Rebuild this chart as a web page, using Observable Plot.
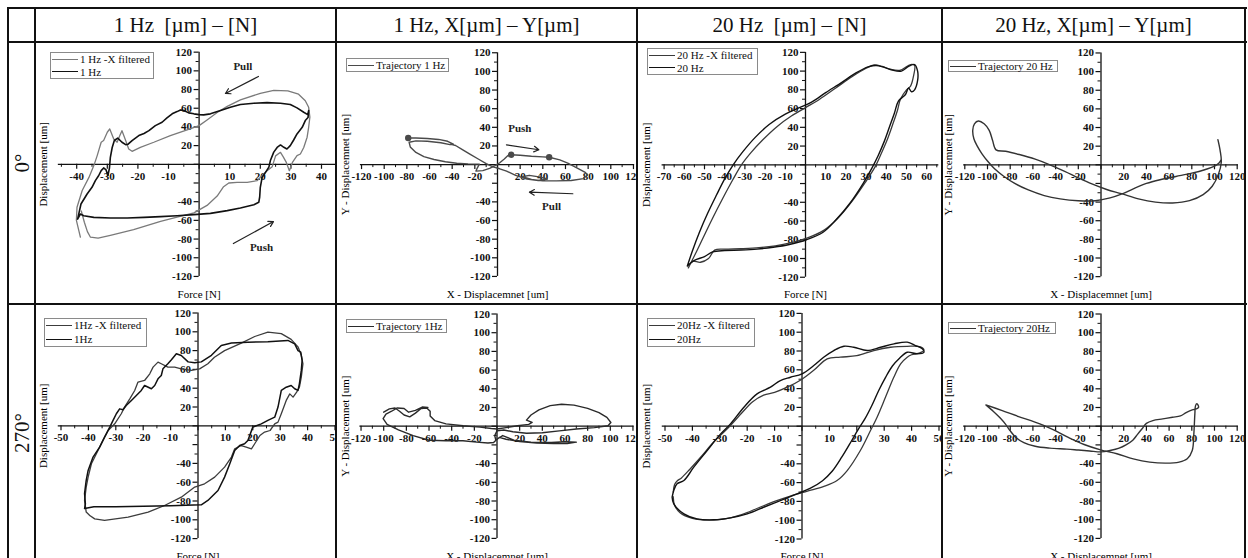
<!DOCTYPE html>
<html>
<head>
<meta charset="utf-8">
<script src="https://cdn.jsdelivr.net/npm/d3@7"></script>
<script src="https://cdn.jsdelivr.net/npm/@observablehq/plot@0.6"></script>
<style>
  html, body { margin: 0; padding: 0; background: #fff; }
  body { width: 1248px; height: 558px; overflow: hidden; font-family: "Liberation Serif", "Times New Roman", serif; color: #111; }
  #root { position: relative; width: 1248px; height: 558px; overflow: hidden; }
  .cell { position: absolute; overflow: hidden; }
  .line { position: absolute; background: #111; }
  .hdr { position: absolute; font-size: 21px; white-space: pre; line-height: 24px; height: 24px; text-align: center; }
  .rowlab { position: absolute; font-size: 21px; white-space: pre; width: 80px; height: 24px; line-height: 24px; text-align: center; transform: rotate(-90deg); }
  .legend { position: absolute; box-sizing: border-box; border: 1px solid #8a8a8a; background: #fff; font-size: 11px; padding-left: 1px; }
  .lrow { display: flex; align-items: center; white-space: pre; height: 12.5px; line-height: 12.5px; }
  .lsw { display: inline-block; width: 26px; height: 0; margin-right: 2px; }
  svg text { font-family: "Liberation Serif", "Times New Roman", serif; }
</style>
</head>
<body>
<div id="root"></div>
<script>
// ---------------- text ----------------
const columnHeaders = ["1 Hz  [\u00b5m] \u2013 [N]", "1 Hz, X[\u00b5m] \u2013 Y[\u00b5m]", "20 Hz  [\u00b5m] \u2013 [N]", "20 Hz, X[\u00b5m] \u2013 Y[\u00b5m]"];
const rowLabels = ["0\u00b0", "270\u00b0"];

// ---------------- tick labels ----------------
const yTickLabels = [-120, -100, -80, -60, -40, 20, 40, 60, 80, 100, 120];
const xLabels1Hz0 = [-40, -30, -20, -10, 10, 20, 30, 40];
const xLabelsDisp = [-120, -100, -80, -60, -40, -20, 20, 40, 60, 80, 100, 120];
const xLabels20Hz0 = [-70, -60, -50, -40, -30, -20, -10, 10, 20, 30, 40, 50, 60];
const xLabels270 = [-50, -40, -30, -20, -10, 10, 20, 30, 40, 50];

// ---------------- data: 0 deg, 1 Hz force / displacement ----------------
const force1Hz0 = [
  [-39.7,-58.6],[-38.6,-42.5],[-36.6,-31.8],[-35,-24.6],[-33.9,-17.5],[-32.8,-12],[-32,-6.8],[-31.2,-3.9],[-30.4,-6],[-29.8,-12],[-29.3,-4],[-29,7.5],[-28.4,18],[-27.7,25.5],[-26.6,28],[-25.2,23.6],[-24,21],[-23.2,21.5],[-21.9,25.4],[-19.7,30.7],[-18,33],[-16.4,36],[-14.3,41.4],[-12.1,45],[-10.5,49.6],[-8.8,54],[-7.2,56.4],[-6.1,58.2],[-5,57.5],[-3.4,55],[-1.7,54],[0,53.2],[1.5,52.9],[3.7,54],[7,57.5],[10.2,61],[13.5,64],[17.9,65.4],[22.2,66],[26.6,65.4],[29.8,64],[32,60.4],[34.2,55.7],[35.5,53.2],[35.8,57.5],[35.6,50],[34.7,46.8],[33.7,39.6],[32,32.5],[30.9,26],[29.8,20],[28.7,16.4],[27.7,18.2],[26.6,20.7],[25.5,18],[24.4,13],[23.3,4],[22.8,-3],[21.7,-8.6],[20.6,-14],[20,-24.6],[19.8,-35],[19.5,-40.7],[17.9,-43.2],[13.5,-46.8],[9.2,-49.6],[3.7,-52.5],[-1.7,-53.9],[-7.2,-55],[-12.6,-56],[-18,-56.8],[-23.5,-57.5],[-29,-57.5],[-34.4,-56.8],[-37.7,-55],[-38.8,-53.2],[-39.7,-58.6]
];
const force1Hz0Filtered = [
  [-38.5,-50],[-37.5,-62],[-36.5,-72],[-35.5,-78],[-33,-79],[-29,-76],[-21.4,-70],[-12.6,-61],[-7.2,-56.5],[-1.7,-52],[2.6,-44],[5.9,-34],[8,-24],[9.7,-20],[12.4,-19.3],[15.7,-19.3],[19,-17.5],[20.6,-12],[22.2,-7],[23.9,-2.5],[25,9],[26.6,12.8],[27.5,8],[28.5,2],[29.5,-6.8],[30.5,2],[32,9.3],[33.1,11],[34.2,18],[35.3,29],[35.8,39.6],[36.2,50.4],[35.8,61],[34.7,68],[32.5,75],[29,78.5],[24.4,79],[20,76],[13.5,69],[9.2,62],[5.9,55.5],[2.6,47.5],[0,41.4],[-3.9,36.8],[-9.4,30.7],[-14.8,23.6],[-19.2,18.2],[-21.9,13.9],[-23,16.4],[-24,25.4],[-25.2,36],[-25.9,30.7],[-26.8,23.6],[-27.9,27],[-29.2,37.8],[-30,34.3],[-31.2,25.4],[-32,23.6],[-33.3,9.3],[-34.4,-1.4],[-36,-14],[-38.2,-28],[-39.9,-46],[-40.1,-60],[-39.3,-71],[-38.8,-78]
];
const arrows1Hz0 = [[19.4, 94, 8.6, 75.8], [11.2, -84.8, 24.3, -61.3]];
const notes1Hz0 = [["Pull", 14.3, 105], ["Push", 20.4, -89.4]];

// ---------------- data: 0 deg, 1 Hz trajectory ----------------
const traj1Hz0 = [
  [-78.8,28.6],[-72,28.5],[-62,28],[-52,27],[-44,25],[-39,22],[-42,21.5],[-50,23.5],[-62,25],[-72,25.5],[-78,24],[-77,19],[-72,13],[-65,8.5],[-56,5.5],[-46,3],[-36,1.5],[-26,0.8],[-16,0.5],[-18,-4],[-19,-7],[-13,-6.5],[-7,-4],[-2,-1],[2,2],[6,6],[9,9.5],[12,10.5],[20,10],[30,9],[40,8.3],[45.6,7.9],[55,5],[62,1.5],[70,-3.5],[77,-8],[79.5,-11],[76,-15],[65,-17],[52,-17.5],[40,-17.5],[30,-16],[22,-13],[28,-11.5],[38,-13.5],[44,-15.5],[36,-17],[26,-15.5],[16,-11.5],[8,-7],[2,-4.5],[-4,-2.5],[-10,1],[-17,6],[-24,11],[-31,16],[-37,20.5],[-40,21.5]
];
const traj1Hz0Markers = [[-78.8,28.6],[45.6,7.9],[12,10.5]];
const arrowsTraj1Hz0 = [[7.9, 21.2, 36.5, 15.9], [66.5, -31.3, 28.2, -29.6]];
const notesTraj1Hz0 = [["Push", 19.7, 38.4], ["Pull", 47.7, -45]];

// ---------------- data: 0 deg, 20 Hz force / displacement ----------------
const force20Hz0 = [
  [-58.5,-108],[-56,-92],[-52.5,-72],[-48.5,-52],[-44,-32],[-40,-15],[-35.8,0],[-31,14],[-25,29],[-18,43],[-10,54],[-3,61],[3,67],[10,77],[18,88],[25,98],[31,104.5],[35,106],[39,104],[43,101],[47.5,100],[51,105],[54,107],[55.5,100],[55.5,90],[54,80],[52.5,78],[51,82],[49.5,75],[46,68],[44,55],[41.5,40],[39,25],[36,10],[33,-3],[28.5,-20],[22,-41],[15,-59],[8.7,-72],[0.5,-80],[-8,-85],[-16,-88],[-24,-90],[-32,-91],[-40,-91.5],[-46,-93],[-50,-98],[-55,-102],[-58.5,-108]
];
const force20Hz0Filtered = [
  [-58,-110],[-54.5,-95],[-50.5,-77],[-46,-57],[-41,-36],[-36,-16],[-31.7,0],[-27,13],[-21,27],[-14,41],[-7,52],[0,61],[7,70],[15,82],[23,94],[30,103],[34,106.5],[38,105],[42,102],[47,101],[52,107],[54,106],[53.5,95],[52,84],[50,80],[47,70],[45.5,58],[43,42],[40.5,27],[37.5,12],[34.5,-2],[29.5,-19],[23,-39],[16,-57],[9,-70],[1,-78],[-7,-83],[-15,-86.5],[-23,-88.5],[-32,-89.5],[-40,-90],[-45,-91],[-48,-100],[-52,-104],[-56,-103],[-58,-110]
];

// ---------------- data: 0 deg, 20 Hz trajectory ----------------
const traj20Hz0 = [
  [103,27],[105,15],[106,3],[103.5,-10],[98,-23],[90,-32],[78,-38.5],[63,-41],[48,-40],[33,-36.5],[18,-31],[5,-26.5],[-8,-20.5],[-20,-14],[-32,-7],[-45,0],[-58,6],[-72,11],[-84,14.5],[-92.5,16],[-95.5,26],[-98.5,37],[-103,44],[-108,47],[-111.5,44],[-113,37],[-112,28],[-109,20],[-105,12],[-100,4],[-94,-4],[-86,-12],[-76,-20],[-64,-27],[-50,-33],[-36,-36.5],[-20,-38.5],[-5,-38.5],[8,-35.5],[18,-31.5],[28,-26],[40,-20],[52,-16],[66,-12.5],[80,-9],[92,-5],[100,-1.5],[104,2],[106,6]
];

// ---------------- data: 270 deg, 1 Hz force / displacement ----------------
const force1Hz270 = [
  [-41.1,-83],[-41.4,-72],[-40.8,-58],[-40.1,-47.5],[-38.3,-33.3],[-35.9,-22.7],[-34.1,-12],[-32.2,-1.4],[-31,5.7],[-29.8,12.8],[-28.6,18],[-27.4,17],[-26.2,21.6],[-24.3,27],[-22.5,32.3],[-20.7,37.6],[-19.5,42.9],[-17,39.4],[-15.8,42.9],[-14.6,50],[-13.4,53.5],[-12.8,60.6],[-11,66],[-9.7,70.2],[-7.9,76.6],[-6.1,74.8],[-3.6,68],[-1.2,67],[1.2,68],[4.9,75],[8.5,85.5],[12.2,88],[18.2,89],[25.5,89.5],[32.8,90.8],[35.3,87.2],[36.5,80],[37.5,78.4],[38,69.5],[37.7,58.9],[37,44.7],[36.5,37.6],[35.3,39.4],[34,42.9],[32.2,41.1],[30.4,37.6],[29.2,19.9],[28,9.2],[25.5,5.7],[23.1,2],[20,-1.4],[18.2,-15.6],[17,-19.1],[15.2,-20.9],[13.4,-26.2],[11.6,-40.4],[9.7,-54.6],[7.3,-68.8],[3.6,-79.4],[1.2,-84],[-10,-85],[-20,-85.5],[-30,-86],[-38,-86],[-41.4,-88],[-41.1,-83]
];
const force1Hz270Filtered = [
  [-39.5,-95.4],[-40.8,-91.8],[-41.4,-79.4],[-40.8,-65.2],[-40.1,-54.6],[-38.9,-40.4],[-36.5,-26.2],[-34.7,-15.6],[-32.8,-5],[-30.4,2.1],[-28,12.8],[-26.8,19.9],[-24.9,28.7],[-23.1,37.6],[-21.9,46.5],[-19.5,48.2],[-17.6,55.3],[-16.4,62.4],[-14.6,67.7],[-13.4,66],[-11,62.4],[-8.5,62.4],[-6.1,60.6],[-2.4,58.9],[0.6,60.6],[3.6,66],[6,73],[9.7,80],[15.8,88],[20.7,95],[25.5,99.6],[30.4,98],[34,92],[36.5,84],[37.7,75],[38.3,66],[37.7,51.8],[37,41],[36,35.8],[34.7,30.5],[33.5,34],[32.2,27],[30.4,12.8],[29.2,3.9],[28,2],[26.3,-5],[24.3,-6.7],[22.6,-10.3],[20.7,-19.1],[19.5,-24.5],[17.6,-22.7],[15.8,-21],[13.4,-24.5],[12.2,-33.3],[9.7,-44],[6.1,-54.6],[2.4,-61.7],[-1.2,-65.2],[-6.1,-75.9],[-12.2,-84.8],[-18.2,-91.8],[-25.5,-97.2],[-34.1,-100.7],[-37.7,-99],[-39.5,-95.4]
];

// ---------------- data: 270 deg, 1 Hz trajectory ----------------
const traj1Hz270 = [
  [-100,15],[-95,18.5],[-90,19.5],[-86,16],[-82,12],[-77,10],[-72,14],[-67,19],[-62,19.5],[-59,16],[-59,11],[-55,6],[-45,2.5],[-30,0.5],[-15,-1],[-5,-2.5],[0,-3],[8,-1.5],[18,0.5],[28,2],[31,4],[26,6.5],[30,12],[37,17.5],[47,22],[57,23.5],[68,22.5],[80,19],[90,14.5],[97,9.5],[100.5,4],[98,0.5],[86,-1.5],[70,-3],[55,-5],[40,-7],[26,-7.5],[14,-6],[6,-4],[0,-5],[-2,-10],[-1,-15],[2,-12],[8,-14],[20,-16.5],[35,-18],[50,-18.5],[62,-18.5],[70,-17],[60,-16.5],[48,-17.5],[30,-17],[15,-15],[5,-10],[0,-14],[-3,-17.5],[-8,-18],[-18,-17],[-30,-15.5],[-45,-15.5],[-60,-15],[-74,-10],[-87,-4],[-97,2],[-100.5,8],[-98,13],[-93,16],[-88,19.5],[-82,19],[-78,15],[-72,17],[-66,20.5],[-61,20]
];

// ---------------- data: 270 deg, 20 Hz force / displacement ----------------
const force20Hz270 = [
  [-47.4,-75.5],[-46.8,-68.4],[-45.6,-61.3],[-43.1,-57.8],[-39.5,-43.6],[-34.6,-25.9],[-29.7,-8.2],[-26.1,2.5],[-21.2,20.2],[-16.4,34.4],[-11.5,41.5],[-7.9,48.6],[-4.2,52.1],[0,55.7],[4.3,64.5],[7.9,73.4],[11.6,80.5],[15.3,85.1],[18.9,84],[23.8,80.5],[28.7,84],[33.6,87.6],[38.4,89.4],[41.4,85.8],[43.9,82.3],[44.5,78.7],[42,77],[38.4,78.7],[35.5,72],[33,64],[30.5,52],[28,38],[25.5,22],[23,8],[21,-1],[18,-16],[14.5,-33],[11,-48],[7.5,-58],[3.1,-66],[-1.8,-72],[-7.9,-79.1],[-14,-86.2],[-20,-93.3],[-26.1,-97.5],[-32.2,-99.6],[-38.3,-98.6],[-43.1,-93.3],[-46.8,-82.6],[-47.4,-75.5]
];
const force20Hz270Filtered = [
  [-47,-70],[-46.5,-62],[-45.5,-58],[-44,-55],[-41,-46],[-37,-33],[-32,-16],[-27,-2],[-22,14],[-18,26],[-14,33],[-10,36],[-5.4,41.5],[0,50],[4.5,60],[9.2,71.6],[14,73.4],[20,75],[26.2,80.5],[32.3,84],[38.4,85],[43.2,84.5],[44.5,81],[43,78],[40,76],[38.4,73.4],[36,66.3],[33.5,52],[30.5,31],[27.4,9.6],[25,-4.6],[21.3,-25.9],[16.5,-47.2],[12.8,-57.8],[8,-64],[2,-69],[-4,-74],[-10,-80],[-16,-87],[-22,-94],[-28,-98.5],[-34,-100],[-40,-98],[-44.5,-92],[-46.5,-84],[-47,-75]
];

// ---------------- data: 270 deg, 20 Hz trajectory ----------------
const traj20Hz270 = [
  [-101.4,22.8],[-87,16.7],[-72.6,10.3],[-58.2,4.3],[-43.7,-2.8],[-29.3,-11.7],[-14.9,-19.6],[-0.4,-25.3],[14,-29.5],[28.4,-34.9],[42.9,-38.4],[57.3,-39.5],[68.8,-38.4],[76,-34.9],[80.4,-26],[81.8,-8.2],[82.7,13.2],[83.3,22],[84.5,24],[86,20.3],[84,18.5],[80.4,17.5],[75,14.5],[70,11],[63,9.6],[54.4,7.8],[45.7,6],[40,3],[36,-3],[32,-9],[28,-15],[22,-20],[16,-23.5],[8,-26],[0,-27.5],[-10,-26.5],[-20,-25.5],[-30,-24.5],[-45,-23.5],[-58,-21.5],[-68,-17.5],[-75,-12],[-80,-5],[-84,2],[-89,9],[-95,16],[-101.4,22.8]
];

// ---------------- layout ----------------
const root = document.getElementById("root");
const colX = [8, 35, 336, 637, 942, 1245];
const rowY = [8, 42, 304, 566];

const panels = [
  {col: 1, row: 0, ox: 163.6, oy: 121.8, kx: 3.06, ky: 0.9345, xAxis: [-46, 48], xMajor: 10, xMinor: 5, xLabels: xLabels1Hz0,
   xTitle: "Force [N]", yTitle: "Displacement [um]", yTitleDx: 8, curve: "linear",
   series: [{data: force1Hz0Filtered, stroke: "#7a7a7a", w: 1.3}, {data: force1Hz0, stroke: "#111", w: 1.6}],
   arrows: arrows1Hz0, notes: notes1Hz0,
   legend: {box: [50, 52, 104, 27], items: [["1 Hz -X filtered", "#7a7a7a"], ["1 Hz", "#111"]]}},
  {col: 2, row: 0, ox: 161, oy: 122.1, kx: 1.133, ky: 0.932, xAxis: [-121, 121], xMajor: 20, xMinor: 10, xLabels: xLabelsDisp,
   xTitle: "X - Displacemnet [um]", yTitle: "Y - Displacemnet [um]", yTitleDx: 9, curve: "linear",
   series: [{data: traj1Hz0, stroke: "#4a4a4a", w: 1.4}], markers: traj1Hz0Markers,
   arrows: arrowsTraj1Hz0, notes: notesTraj1Hz0,
   legend: {box: [346, 58, 103, 14], items: [["Trajectory 1 Hz", "#4a4a4a"]]}},
  {col: 3, row: 0, ox: 168, oy: 122.3, kx: 2.02, ky: 0.937, xAxis: [-71, 66], xMajor: 10, xMinor: 5, xLabels: xLabels20Hz0,
   xTitle: "Force [N]", yTitle: "Displacement [um]", yTitleDx: 9, curve: "catmull-rom",
   series: [{data: force20Hz0Filtered, stroke: "#3a3a3a", w: 1.3}, {data: force20Hz0, stroke: "#111", w: 1.4}],
   legend: {box: [647, 48, 111, 27], items: [["20 Hz -X filtered", "#3a3a3a"], ["20 Hz", "#111"]]}},
  {col: 4, row: 0, ox: 158.5, oy: 122.3, kx: 1.135, ky: 0.932, xAxis: [-121, 121], xMajor: 20, xMinor: 10, xLabels: xLabelsDisp,
   xTitle: "X - Displacemnet [um]", yTitle: "Y - Displacemnet [um]", yTitleDx: 5.5, curve: "catmull-rom",
   series: [{data: traj20Hz0, stroke: "#333", w: 1.4}],
   legend: {box: [948, 60, 110, 12], items: [["Trajectory 20 Hz", "#333"]]}},
  {col: 1, row: 1, ox: 162.5, oy: 121.3, kx: 2.74, ky: 0.94, xAxis: [-51, 52], xMajor: 10, xMinor: 5, xLabels: xLabels270,
   xTitle: "Force [N]", yTitle: "Displacement [um]", yTitleDx: 8, curve: "linear",
   series: [{data: force1Hz270Filtered, stroke: "#3c3c3c", w: 1.3}, {data: force1Hz270, stroke: "#111", w: 1.5}],
   legend: {box: [44, 318, 103, 29], items: [["1Hz -X filtered", "#3c3c3c"], ["1Hz", "#111"]]}},
  {col: 2, row: 1, ox: 160.5, oy: 121.7, kx: 1.133, ky: 0.935, xAxis: [-121, 121], xMajor: 20, xMinor: 10, xLabels: xLabelsDisp,
   xTitle: "X - Displacemnet [um]", yTitle: "Y - Displacemnet [um]", yTitleDx: 9, curve: "linear",
   series: [{data: traj1Hz270, stroke: "#2a2a2a", w: 1.4}],
   legend: {box: [346, 319, 101, 14], items: [["Trajectory 1Hz", "#2a2a2a"]]}},
  {col: 3, row: 1, ox: 164.5, oy: 121.7, kx: 2.74, ky: 0.94, xAxis: [-51, 52], xMajor: 10, xMinor: 5, xLabels: xLabels270,
   xTitle: "Force [N]", yTitle: "Displacement [um]", yTitleDx: 9, curve: "catmull-rom",
   series: [{data: force20Hz270Filtered, stroke: "#3a3a3a", w: 1.3}, {data: force20Hz270, stroke: "#111", w: 1.4}],
   legend: {box: [647, 318, 108, 29], items: [["20Hz -X filtered", "#3a3a3a"], ["20Hz", "#111"]]}},
  {col: 4, row: 1, ox: 158.5, oy: 121.7, kx: 1.135, ky: 0.935, xAxis: [-121, 121], xMajor: 20, xMinor: 10, xLabels: xLabelsDisp,
   xTitle: "X - Displacemnet [um]", yTitle: "Y - Displacemnet [um]", yTitleDx: 5.5, curve: "catmull-rom",
   series: [{data: traj20Hz270, stroke: "#333", w: 1.4}],
   legend: {box: [948, 322, 108, 12], items: [["Trajectory 20Hz", "#333"]]}}
];

const AX = "#111";
const FONT = '"Liberation Serif", "Times New Roman", serif';

function drawPanel(p) {
  const left = colX[p.col], top = rowY[p.row + 1];
  const W = colX[p.col + 1] - left, H = rowY[p.row + 2] - top;
  const xd = [-p.ox / p.kx, (W - p.ox) / p.kx];
  const yd = [-(H - p.oy) / p.ky, p.oy / p.ky];
  const [xa, xb] = p.xAxis;
  const xMaj = d3.range(Math.ceil(xa / p.xMajor) * p.xMajor, xb + 1e-9, p.xMajor);
  const xMin = d3.range(Math.ceil(xa / p.xMinor) * p.xMinor, xb + 1e-9, p.xMinor).filter(v => Math.abs(v % p.xMajor) > 1e-9);
  const yMaj = d3.range(-120, 121, 20);
  const yMin = d3.range(-110, 111, 20);
  const tickText = {fontSize: 11, fontWeight: "bold", fill: "#111", fontFamily: FONT};
  const marks = [
    Plot.ruleY([0], {x1: xa, x2: xb, stroke: AX, strokeWidth: 1.3}),
    Plot.ruleX([0], {y1: -120, y2: 120, stroke: AX, strokeWidth: 1.3}),
    Plot.ruleX(xMaj, {x: d => d, y1: 0, y2: 0, insetBottom: -5, stroke: AX, strokeWidth: 1.2}),
    Plot.ruleX(xMin, {x: d => d, y1: 0, y2: 0, insetBottom: -3, stroke: AX, strokeWidth: 1}),
    Plot.ruleY(yMaj, {y: d => d, x1: 0, x2: 0, insetLeft: -5, stroke: AX, strokeWidth: 1.2}),
    Plot.ruleY(yMin, {y: d => d, x1: 0, x2: 0, insetLeft: -3, stroke: AX, strokeWidth: 1}),
    Plot.text(p.xLabels, {x: d => d, y: 0, dy: 12, text: d => String(d), ...tickText}),
    Plot.text(yTickLabels, {x: 0, y: d => d, dx: -7, textAnchor: "end", text: d => String(d), ...tickText}),
    Plot.text([p.xTitle], {x: 0, frameAnchor: "bottom", lineAnchor: "middle", textAnchor: "middle", dy: -10, text: d => d, fontSize: 11, fill: "#000", fontFamily: FONT}),
    Plot.text([p.yTitle], {y: 0, frameAnchor: "left", lineAnchor: "middle", textAnchor: "middle", dx: p.yTitleDx, rotate: -90, text: d => d, fontSize: 11, fill: "#000", fontFamily: FONT})
  ];
  for (const s of p.series) {
    marks.push(Plot.line(s.data, {x: d => d[0], y: d => d[1], stroke: s.stroke, strokeWidth: s.w, curve: p.curve, strokeLinejoin: "round"}));
  }
  if (p.markers) marks.push(Plot.dot(p.markers, {x: d => d[0], y: d => d[1], r: 3.2, fill: "#4a4a4a"}));
  if (p.arrows) marks.push(Plot.arrow(p.arrows, {x1: d => d[0], y1: d => d[1], x2: d => d[2], y2: d => d[3], stroke: "#222", strokeWidth: 1.2, headLength: 7}));
  if (p.notes) marks.push(Plot.text(p.notes, {x: d => d[1], y: d => d[2], text: d => d[0], fontSize: 11, fontWeight: "bold", fill: "#222", fontFamily: FONT}));

  const svg = Plot.plot({
    width: W, height: H, margin: 0,
    x: {domain: xd, axis: null},
    y: {domain: yd, axis: null},
    style: {fontFamily: FONT, fontSize: "11px", color: "#111", background: "transparent"},
    marks
  });
  const cell = document.createElement("div");
  cell.className = "cell";
  Object.assign(cell.style, {left: left + "px", top: top + "px", width: W + "px", height: H + "px"});
  cell.appendChild(svg);
  root.appendChild(cell);

  // legend
  const lg = document.createElement("div");
  lg.className = "legend";
  const [bx, by, bw, bh] = p.legend.box;
  Object.assign(lg.style, {left: bx + "px", top: by + "px", width: bw + "px", height: bh + "px"});
  const rh = p.legend.items.length > 1 ? (bh - 2) / 2 : bh - 2;
  for (const [label, color] of p.legend.items) {
    const row = document.createElement("div");
    row.className = "lrow";
    row.style.height = rh + "px";
    row.style.lineHeight = rh + "px";
    const sw = document.createElement("span");
    sw.className = "lsw";
    sw.style.borderTop = "1.6px solid " + color;
    const tx = document.createElement("span");
    tx.textContent = label;
    row.appendChild(sw); row.appendChild(tx);
    lg.appendChild(row);
  }
  root.appendChild(lg);
}

panels.forEach(drawPanel);

// headers
columnHeaders.forEach((t, i) => {
  const d = document.createElement("div");
  d.className = "hdr";
  d.textContent = t;
  const l = colX[i + 1], r = colX[i + 2];
  Object.assign(d.style, {left: l + "px", width: (r - l) + "px", top: (25 - 12) + "px"});
  root.appendChild(d);
});
// row labels
const rowLabelCenters = [163, 433];
rowLabels.forEach((t, i) => {
  const d = document.createElement("div");
  d.className = "rowlab";
  d.textContent = t;
  Object.assign(d.style, {left: (21.5 - 40) + "px", top: (rowLabelCenters[i] - 12) + "px"});
  root.appendChild(d);
});
// table grid lines
const addLine = (x, y, w, h) => {
  const d = document.createElement("div");
  d.className = "line";
  Object.assign(d.style, {left: x + "px", top: y + "px", width: w + "px", height: h + "px"});
  root.appendChild(d);
};
[8, 42, 304].forEach(y => addLine(7, y - 1, 1240, 2));
colX.forEach(x => addLine(x - 1, 7, 2, 560));
</script>
</body>
</html>
